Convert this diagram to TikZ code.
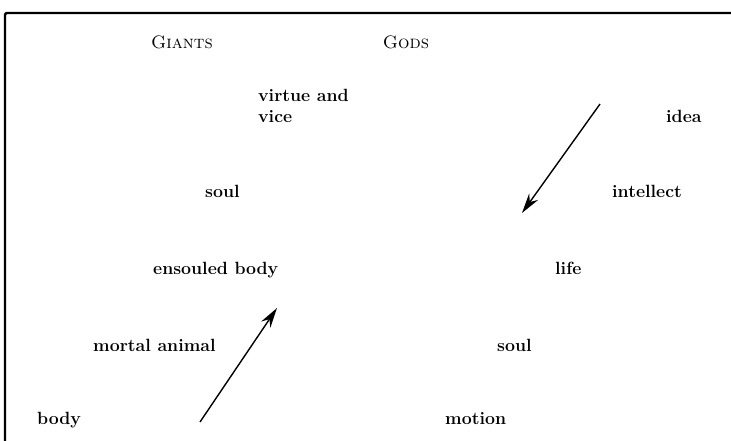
\documentclass[tikz,border=0pt]{standalone}
\usepackage{tikz}
\usetikzlibrary{arrows.meta, positioning}

\begin{document}
\begin{tikzpicture}[
    x=1pt, y=-1pt,
    every node/.style={font=\fontsize{17.7}{21}\selectfont\bfseries, inner sep=0pt, anchor=base west},
    head/.style={font=\fontsize{18}{21}\selectfont\scshape, anchor=base},
    term/.style={align=left},
    ascent/.style={line width=1.4pt, -{Stealth[length=20pt, width=11pt]}}
]
\useasboundingbox (0,0) rectangle (731,440);

% frame (only the top and left edges fall inside)
\draw[line width=2.4pt, rounded corners=2pt] (5,445) -- (5,13) -- (740,13);

% headings
\node[head] (giants) at (182,48) {Giants};
\node[head] (gods) at (406,48) {Gods};

% the Giants' ladder
\node[term] (virtue) at (258,122) {virtue and\\vice};
\node (soulL) at (205,197) {soul};
\node (ensouled) at (153,274) {ensouled body};
\node (mortal) at (93,351) {mortal animal};
\node (body) at (37,424) {body};

% the Gods' ladder
\node (idea) at (666,122) {idea};
\node (intellect) at (612,197) {intellect};
\node (life) at (555,274) {life};
\node (soulR) at (497,351) {soul};
\node (motion) at (445,424) {motion};

% arrows
\coordinate (upfoot) at (200,422);
\coordinate (uptip) at (277,308);
\coordinate (downfoot) at (600,104);
\coordinate (downtip) at (522,213);
\draw[ascent] (upfoot) -- (uptip);
\draw[ascent] (downfoot) -- (downtip);
\end{tikzpicture}
\end{document}
